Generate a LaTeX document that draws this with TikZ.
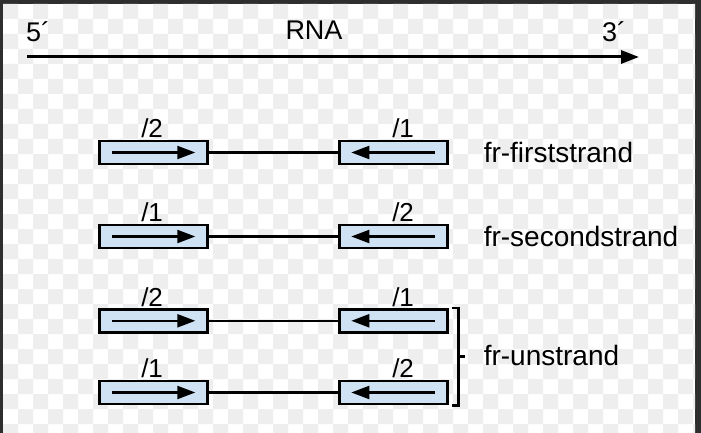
\documentclass[tikz,border=0pt]{standalone}
\usepackage{fontspec}
\setmainfont{Liberation Sans}
\usetikzlibrary{arrows.meta,calc}
\definecolor{framegray}{HTML}{2E2E2E}
\definecolor{checkgray}{HTML}{EEEEEE}
\definecolor{readblue}{HTML}{CFE2F3}
\tikzset{
  txt/.style={inner sep=0pt, font=\fontsize{27}{30}\selectfont},
  sidetxt/.style={txt, anchor=base west, font=\fontsize{28}{30}\selectfont},
  matetxt/.style={txt, anchor=base west, font=\fontsize{26}{30}\selectfont},
  readbox/.style={draw=black, line width=2.5pt, fill=readblue, minimum width=108pt,
    minimum height=23pt, inner sep=0pt},
  readtip/.style={line width=2.2pt, -{Triangle[length=18pt,width=13pt]}},
  fwdread/.style={readbox, path picture={
    \draw[readtip] ([xshift=12.5pt]path picture bounding box.west) --
                   ([xshift=-12pt]path picture bounding box.east);}},
  revread/.style={readbox, path picture={
    \draw[readtip] ([xshift=-12.5pt]path picture bounding box.east) --
                   ([xshift=12pt]path picture bounding box.west);}},
  insert/.style={line width=2.2pt},
  bracket/.style={line width=2.5pt},
}
\begin{document}
\begin{tikzpicture}[x=1pt,y=-1pt]
\useasboundingbox (0,0) rectangle (701,433);
% window frame and transparency grid
\fill[framegray] (0,0) rectangle (701,433);
\fill[white] (3,4) rectangle (695,433);
\begin{scope}
  \clip (3,4) rectangle (695,433);
  \foreach \i in {0,...,23}
    \foreach \j in {0,...,14}
      \fill[checkgray] ({3+30*\i},{4+30*\j}) rectangle +(15,15)
                       ({18+30*\i},{19+30*\j}) rectangle +(15,15);
\end{scope}

% RNA orientation
\node[txt, anchor=base west] (five) at (26,42) {5´};
\node[txt, anchor=base] (rna) at (314,40) {RNA};
\node[txt, anchor=base west] (three) at (602,42) {3´};
\coordinate (rnaL) at (27,57);
\coordinate (rnaR) at (639,57);
\draw[line width=3pt, -{Triangle[length=18pt,width=13pt]}] (rnaL) -- (rnaR);

% read pairs: left mate forward, right mate reverse
\foreach \r/\y/\ml/\mr in {1/152.5/2/1, 2/236.5/1/2, 3/320.8/2/1, 4/392.5/1/2} {
  \node[fwdread] (L\r) at (153.3,\y) {};
  \node[revread] (R\r) at (393.3,\y) {};
  \draw[insert] (L\r) -- (R\r);
  \node[matetxt] (ml\r) at ($(L\r.north west)+(43,-1.8)$) {/\ml};
  \node[matetxt] (mr\r) at ($(R\r.north west)+(54,-1.8)$) {/\mr};
}

% library types
\node[sidetxt] (first) at ($(R1.east)+(35,9.5)$) {fr-firststrand};
\node[sidetxt] (second) at ($(R2.east)+(35,9.5)$) {fr-secondstrand};
\coordinate (brT) at ($(R3.north east)+(10,0)$);
\coordinate (brB) at ($(R4.south east)+(10,0)$);
\coordinate (brM) at ($(brT)!0.5!(brB)+(6.5,0)$);
\draw[bracket] ($(brT)+(-7,0)$) -- (brT) -- (brB) -- ($(brB)+(-7,0)$);
\draw[bracket] ($(brT)!0.5!(brB)$) -- (brM);
\node[sidetxt] (un) at ($(R3.east)!0.5!(R4.east)+(35,8.5)$) {fr-unstrand};
\end{tikzpicture}
\end{document}
